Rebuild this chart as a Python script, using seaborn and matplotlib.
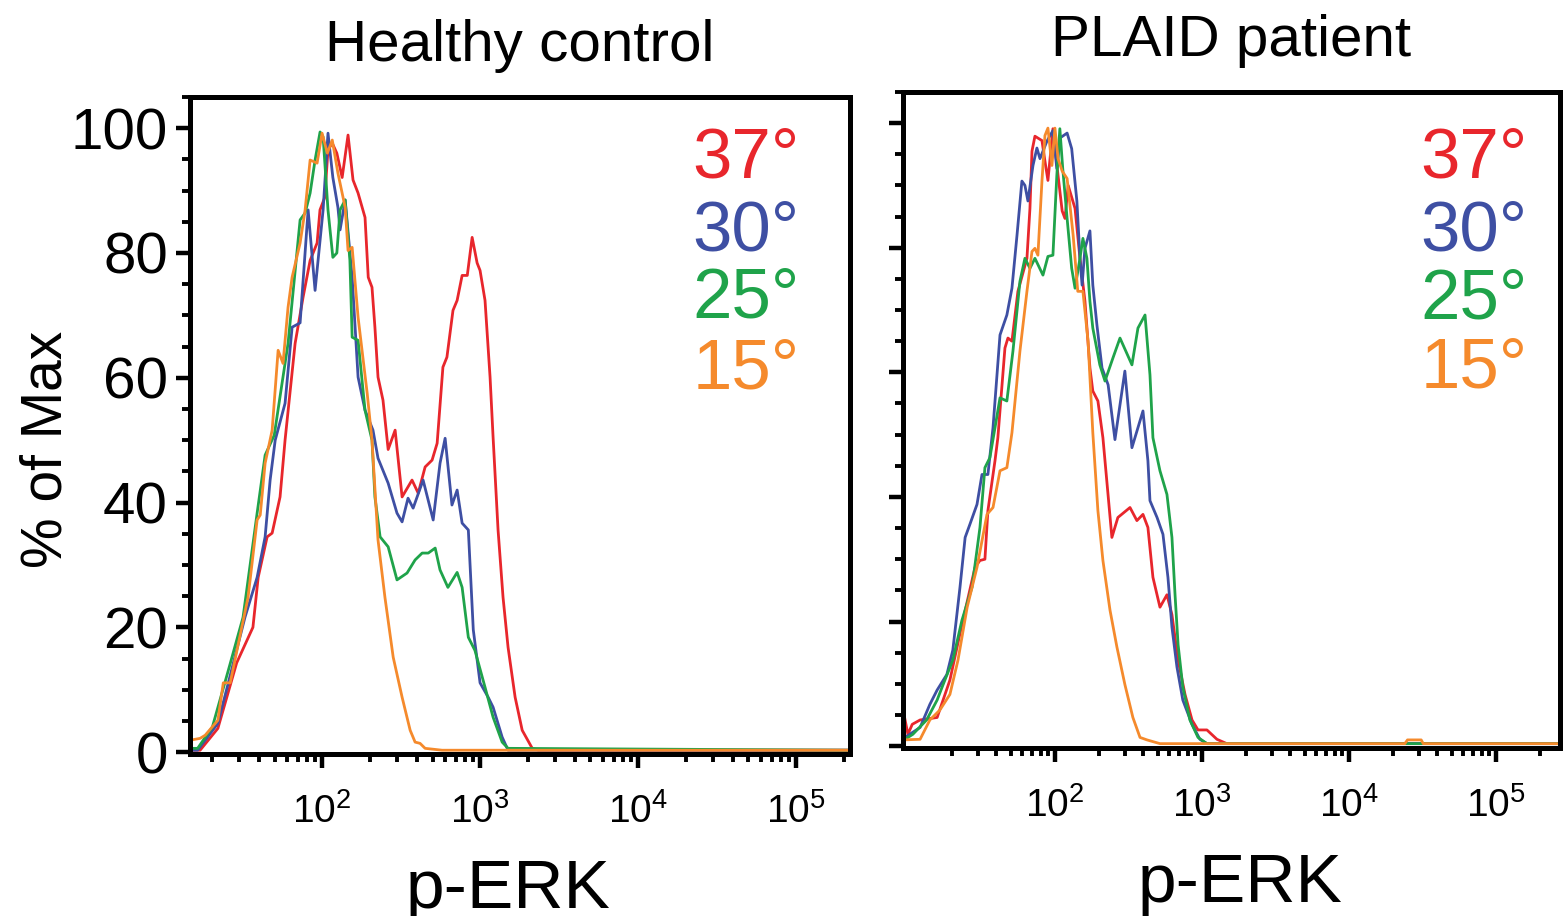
import matplotlib
matplotlib.use("Agg")
import matplotlib.pyplot as plt
from matplotlib.ticker import MultipleLocator, FixedLocator, LogLocator, NullFormatter
import pandas as pd
import seaborn as sns

temps = ["37°", "30°", "25°", "15°"]
colors = ["#E8262C", "#3E4FA3", "#1FA34A", "#F58A2C"]

# Healthy control, p-ERK intensity vs % of max
hc_37_x = [15, 16.9, 21.9, 28.8, 36.5, 39.4, 44.9, 48.3, 54.2, 58.3, 67.5, 75.8, 84, 93, 97, 104, 109, 116, 124, 134,
           146, 157, 169, 187, 196, 207, 216, 226, 243, 262, 290, 321, 371, 406, 449, 497, 535, 582, 617, 674,
           716, 770, 830, 891, 958, 1000, 1075, 1157, 1209, 1300, 1398, 1504, 1667, 1848, 2140, 2340, 220000]
hc_37_y = [0.3, 0.3, 3.8, 14.3, 20.0, 28.0, 34.5, 35.1, 40.9, 50.0, 65.5, 72.9, 78.8, 81.6, 86.9, 88.9, 96.5, 97.6, 96.0, 92.1,
           98.9, 91.7, 89.6, 85.7, 76.1, 74.5, 68.1, 60.1, 56.4, 48.5, 51.6, 40.9, 43.6, 41.5, 45.7, 46.8, 49.5, 61.7, 63.3, 70.8,
           72.4, 76.4, 76.4, 82.5, 78.4, 77.2, 72.4, 60.1, 50.5, 35.6, 24.8, 16.8, 8.8, 3.5, 0.6, 0.3, 0.3]
hc_30_x = [15, 16.3, 21.9, 25.5, 32.5, 38.8, 43.6, 46.9, 50.5, 58.3, 64.6, 72.6, 81.6, 90.3, 101.5, 109, 117, 126, 130, 140,
           155, 169, 187, 210, 226, 262, 298, 321, 350, 377, 436, 505, 558, 601, 664, 716, 770, 843, 906, 1000,
           1125, 1209, 1380, 1504, 220000]
hc_30_y = [0.3, 0.3, 4.6, 11.1, 21.6, 28.0, 34.5, 43.6, 50.0, 55.9, 68.1, 68.8, 86.9, 74.0, 86.9, 99.2, 92.1, 87.3, 83.7, 88.5,
           76.1, 60.1, 54.8, 51.6, 47.1, 43.1, 38.3, 36.9, 40.7, 39.1, 43.6, 37.2, 46.3, 50.3, 39.6, 42.0, 36.7, 35.6, 19.6, 11.1,
           8.8, 7.2, 2.4, 0.3, 0.3]
hc_25_x = [15, 16.3, 20.2, 25.5, 31.6, 38.8, 43.6, 49.8, 60.9, 72.6, 78.1, 84, 90.3, 97.1, 101.5, 109, 117, 124, 130, 140,
           150, 155, 169, 187, 207, 216, 233, 262, 298, 345, 388, 430, 470, 520, 558, 626, 716, 770, 843, 928,
           1075, 1209, 1380, 1504, 220000]
hc_25_y = [0.6, 0.6, 4.0, 13.1, 21.6, 38.3, 47.6, 50.8, 65.5, 85.3, 86.4, 89.6, 94.9, 99.4, 98.6, 86.9, 79.3, 80.0, 86.9, 88.5,
           78.8, 66.5, 66.0, 54.8, 50.0, 40.9, 34.5, 32.9, 27.6, 28.7, 30.8, 31.9, 31.9, 32.7, 29.2, 26.4, 28.8, 26.4, 18.4, 16.3,
           10.4, 5.6, 1.6, 0.6, 0.3]
hc_15_x = [14.6, 16.9, 18.2, 21.9, 23.7, 26.2, 34.0, 38.8, 40.6, 43.6, 48.3, 52.7, 56.6, 60.9, 64.6, 72.6, 78.1, 84, 93, 100,
           108, 116, 126, 140, 146, 155, 169, 193, 207, 226, 250, 282, 321, 361, 388, 417, 449, 575, 220000]
hc_15_y = [1.9, 2.2, 2.7, 5.1, 11.1, 11.1, 24.8, 37.2, 38.0, 46.3, 51.6, 64.4, 62.3, 71.3, 76.1, 81.6, 86.9, 94.9, 94.4, 99.2,
           96.0, 98.1, 92.8, 87.3, 80.4, 80.9, 69.7, 57.5, 50.0, 34.0, 24.8, 15.2, 8.8, 3.5, 1.6, 1.4, 0.6, 0.3, 0.3]

# PLAID patient
pl_37_x = [9.4, 10.0, 10.7, 12.1, 15.8, 19.3, 23.3, 25.7, 28.6, 30.9, 33.4, 35.0, 39.1, 40.9, 45.7, 47.9, 51.0, 56.0, 64.5, 67.6,
           69.8, 73.1, 81.6, 85.5, 89.6, 96.9, 105, 112, 117, 123, 137, 148, 160, 173, 181, 196, 212, 244, 268, 324,
           361, 397, 429, 464, 518, 578, 625, 688, 767, 856, 940, 1081, 1264, 1476, 272000]
pl_37_y = [5.1, 1.9, 3.5, 4.2, 4.6, 10.6, 19.5, 23.9, 28.7, 29.8, 30.0, 37.8, 45.8, 49.5, 63.9, 65.5, 65.0, 73.0, 78.3, 86.3,
           95.5, 97.9, 97.2, 93.9, 90.8, 99.1, 91.6, 85.9, 84.7, 90.0, 86.3, 78.3, 71.4, 60.7, 57.0, 55.4, 49.5, 33.5, 36.7, 38.3,
           36.2, 37.2, 35.1, 27.1, 22.3, 24.3, 21.1, 13.8, 8.3, 4.2, 2.6, 2.6, 1.1, 0.4, 0.4]
pl_30_x = [9.55, 12.1, 14.1, 15.8, 18.4, 20.2, 22.6, 24.5, 26.4, 29.5, 31.9, 35.0, 37.9, 42.3, 47.1, 51.0, 55.2, 59.6, 62.5, 65.5,
           70.9, 75.4, 79.1, 88.2, 96.9, 103, 108, 121, 130, 141, 148, 153, 160, 173, 181, 193, 209, 230, 256, 299,
           334, 397, 429, 443, 495, 543, 587, 625, 676, 741, 856, 968, 1081, 272000]
pl_30_y = [1.4, 3.0, 6.7, 9.0, 11.5, 15.4, 25.5, 33.5, 35.6, 38.8, 43.6, 43.6, 51.1, 66.0, 69.2, 73.5, 82.0, 90.7, 90.0, 87.5,
           93.2, 96.0, 94.3, 97.1, 98.8, 92.7, 97.6, 98.4, 95.9, 87.5, 78.3, 74.0, 79.9, 82.7, 74.0, 67.6, 60.7, 58.0, 49.2, 60.2,
           47.9, 53.8, 45.8, 39.4, 36.7, 34.0, 27.1, 19.1, 12.7, 7.4, 3.5, 1.1, 0.4, 0.4]
pl_25_x = [9.55, 10.8, 13.4, 15.8, 17.3, 20.2, 23.3, 27.3, 30.9, 33.4, 36.1, 39.1, 42.3, 47.1, 51.8, 57.8, 62.5, 67.6, 73.1, 82.9,
           89.6, 96.9, 103, 108, 113, 121, 130, 137, 148, 155, 165, 173, 181, 202, 219, 248, 277, 334, 367, 410,
           443, 464, 518, 578, 625, 656, 688, 741, 828, 940, 1081, 272000]
pl_25_y = [1.1, 1.9, 4.2, 7.4, 9.8, 13.8, 20.2, 25.5, 35.1, 44.7, 46.3, 51.1, 55.9, 55.4, 63.4, 74.6, 78.3, 76.7, 78.3, 75.6,
           78.6, 78.8, 91.6, 99.1, 92.7, 84.7, 76.7, 73.5, 78.3, 81.5, 78.3, 71.4, 67.1, 61.2, 58.6, 62.3, 65.5, 61.2, 67.1, 69.2,
           59.6, 49.5, 44.2, 40.4, 33.5, 24.3, 16.3, 9.5, 4.2, 1.4, 0.4, 0.4]
pl_15_x = [9.25, 12.1, 14.1, 16.5, 19.3, 21.9, 25.3, 29.5, 34.5, 37.9, 42.3, 47.1, 51.0, 57.8, 64.5, 69.8, 73.1, 76.6, 81.6, 85.5,
           89.6, 95.4, 100, 105, 112, 121, 133, 143, 155, 168, 181, 196, 212, 237, 264, 299, 339, 379, 423, 518,
           24000, 25000, 31000, 32000, 272000]
pl_15_y = [1.0, 1.1, 4.2, 5.8, 8.3, 13.8, 22.3, 28.7, 37.2, 38.3, 44.2, 44.7, 50.3, 63.4, 73.0, 79.4, 79.9, 78.8, 90.7, 98.0,
           99.2, 93.2, 99.2, 94.3, 92.3, 91.1, 82.0, 73.0, 73.0, 65.0, 50.3, 37.8, 29.8, 21.8, 15.9, 9.9, 4.6, 1.4, 1.0, 0.4,
           0.4, 1.0, 1.0, 0.4, 0.4]

decade_ticks = [1e2, 1e3, 1e4, 1e5]


def make_frame(curves):
    rows = []
    for temp, (xs, ys) in zip(temps, curves):
        for xv, yv in zip(xs, ys):
            rows.append({"perk": xv, "pct": yv, "temp": temp})
    return pd.DataFrame(rows)


def draw_panel(ax, df, title, xlim, text_x, text_y, show_ylabels):
    sns.lineplot(data=df, x="perk", y="pct", hue="temp", hue_order=temps,
                 palette=dict(zip(temps, colors)), estimator=None, sort=False,
                 legend=False, linewidth=2.0, ax=ax)
    ax.set_xscale("log")
    ax.set_xlim(*xlim)
    ax.set_ylim(-0.3, 105)
    ax.xaxis.set_major_locator(FixedLocator(decade_ticks))
    ax.xaxis.set_minor_locator(LogLocator(base=10, subs=range(2, 10), numticks=20))
    ax.xaxis.set_minor_formatter(NullFormatter())
    ax.yaxis.set_major_locator(MultipleLocator(20))
    ax.yaxis.set_minor_locator(MultipleLocator(5))
    for sp in ax.spines.values():
        sp.set_visible(True)
        sp.set_linewidth(3.6)
        sp.set_color("black")
    ax.tick_params(axis="both", which="major", direction="out", length=10, width=3.2, color="black")
    ax.tick_params(axis="both", which="minor", direction="out", length=6, width=2.8, color="black")
    ax.tick_params(axis="y", labelsize=42, pad=6, labelleft=show_ylabels)
    ax.tick_params(axis="x", labelsize=28, pad=18)
    ax.set_title(title, fontsize=42, pad=26)
    ax.set_xlabel("p-ERK", fontsize=50)
    for temp, c, ty in zip(temps, colors, text_y):
        ax.text(text_x, ty, temp, transform=ax.transAxes, ha="right", va="baseline",
                color=c, fontsize=51)


def main():
    sns.set_style("ticks")
    plt.rcParams["font.family"] = ["Liberation Sans", "DejaVu Sans"]
    plt.rcParams["text.color"] = "black"
    plt.rcParams["axes.labelcolor"] = "black"
    plt.rcParams["xtick.color"] = "black"
    plt.rcParams["ytick.color"] = "black"

    hc = make_frame([(hc_37_x, hc_37_y), (hc_30_x, hc_30_y), (hc_25_x, hc_25_y), (hc_15_x, hc_15_y)])
    pl = make_frame([(pl_37_x, pl_37_y), (pl_30_x, pl_30_y), (pl_25_x, pl_25_y), (pl_15_x, pl_15_y)])

    fig = plt.figure(figsize=(15.63, 9.16), dpi=100)
    ax1 = fig.add_axes([0.1216, 0.1769, 0.4223, 0.7172])
    ax2 = fig.add_axes([0.5777, 0.1834, 0.4203, 0.7162])

    draw_panel(ax1, hc, "Healthy control", (14.6, 2.2e5), 0.924, [0.877, 0.767, 0.664, 0.557], True)
    draw_panel(ax2, pl, "PLAID patient", (9.25, 2.72e5), 0.951, [0.869, 0.759, 0.655, 0.549], False)

    ax1.set_ylabel("% of Max", fontsize=41)
    ax1.yaxis.set_label_coords(-0.176, 0.463)
    ax2.set_ylabel("")
    ax1.xaxis.set_label_coords(0.482, -0.158)
    ax2.xaxis.set_label_coords(0.513, -0.158)

    fig.savefig("out.png", dpi=100)


if __name__ == "__main__":
    main()
